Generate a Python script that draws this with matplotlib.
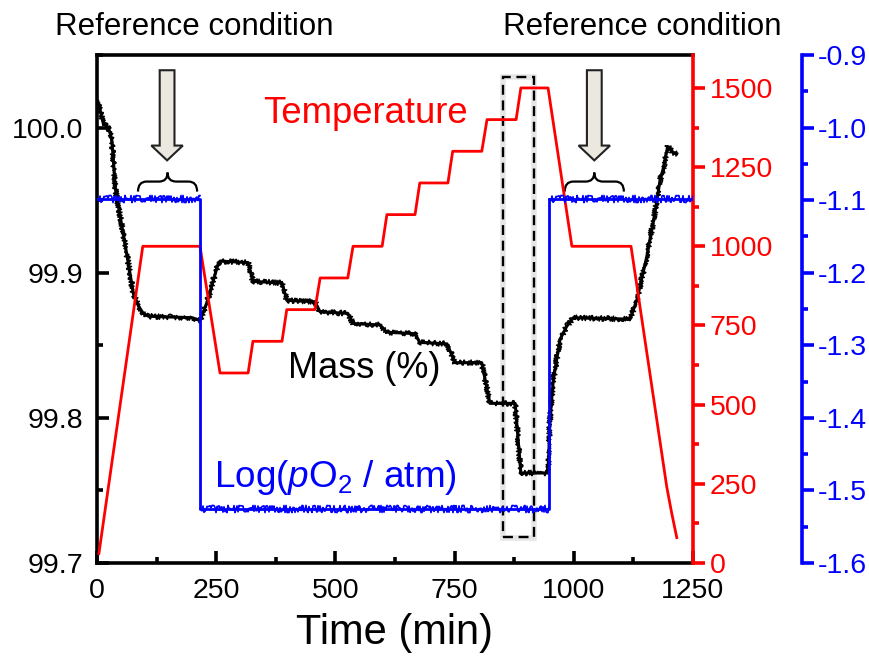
import matplotlib
matplotlib.use("Agg")
import matplotlib.pyplot as plt
from matplotlib.path import Path
from matplotlib.patches import PathPatch, Polygon, Rectangle
from matplotlib.ticker import MultipleLocator, FormatStrFormatter

# ---- data -------------------------------------------------------------
# sample mass (%) versus time (min)
time_mass = [2, 13, 24, 31, 39, 57, 69, 76, 87, 97, 108, 200, 216, 230, 254, 258,
             317, 327, 388, 398, 457, 468, 526, 537, 593, 608, 667, 677,
             734, 751, 807, 824, 877, 889, 944, 947, 950, 957, 971, 985, 999,
             1118, 1132, 1153, 1170, 1181, 1187, 1197, 1208, 1216]
mass = [100.018, 100.003, 100.000, 99.992, 99.957, 99.923, 99.900, 99.886, 99.877, 99.872, 99.870, 99.869, 99.867, 99.879, 99.906, 99.908,
        99.907, 99.894, 99.893, 99.881, 99.880, 99.873, 99.872, 99.865, 99.864, 99.859, 99.858, 99.852,
        99.851, 99.838, 99.838, 99.810, 99.810, 99.762, 99.762, 99.770, 99.799, 99.826, 99.854, 99.863, 99.869,
        99.868, 99.881, 99.911, 99.941, 99.964, 99.971, 99.987, 99.983, 99.982]

# furnace temperature programme (deg C)
time_temp = [4, 96, 216, 258, 317, 327, 388, 398, 457, 468, 526, 537, 598, 608,
             667, 677, 736, 746, 807, 818, 879, 889, 946, 996, 1120, 1195, 1205, 1216]
temp = [30, 1000, 1000, 600, 600, 700, 700, 800, 800, 900, 900, 1000, 1000, 1100,
        1100, 1200, 1200, 1300, 1300, 1400, 1400, 1500, 1500, 1000, 1000, 240, 160, 80]

# oxygen partial pressure, log(pO2 / atm)
time_po2 = [0, 216, 216, 948, 948, 1250]
po2 = [-1.098, -1.098, -1.525, -1.525, -1.098, -1.098]

x_ticks = [0, 250, 500, 750, 1000, 1250]
mass_ticks = [99.7, 99.8, 99.9, 100.0]
temp_ticks = [0, 250, 500, 750, 1000, 1250, 1500]
po2_ticks = [-1.6, -1.5, -1.4, -1.3, -1.2, -1.1, -1.0, -0.9]

# ---- style ------------------------------------------------------------
plt.rcParams["font.family"] = ["Liberation Sans", "DejaVu Sans"]
plt.rcParams["axes.unicode_minus"] = False
plt.rcParams["mathtext.fontset"] = "custom"
plt.rcParams["mathtext.rm"] = "Liberation Sans"
plt.rcParams["mathtext.it"] = "Liberation Sans:italic"

RED = "#ff0000"
BLUE = "#0000ff"
SPINE_W = 2.6
TICK_FS = 20.5
MAJ, MIN = 8.6, 4.5

fig = plt.figure(figsize=(8.7, 6.6), dpi=100)
ax = fig.add_axes([97 / 870, 97 / 660, 596 / 870, 508 / 660])

# host axis: mass (thermobalance signal drawn with a fine jitter texture)
ax.plot(time_mass, mass, color="black", lw=2.2, zorder=3)
(mass_line,) = ax.plot(time_mass, mass, color="black", lw=1.2, zorder=3)
mass_line.set_sketch_params(2.6, 1.2, 2.0)
ax.set_xlim(0, 1250)
ax.set_ylim(99.7, 100.05)
ax.set_xticks(x_ticks)
ax.set_yticks(mass_ticks)
ax.xaxis.set_minor_locator(MultipleLocator(125))
ax.yaxis.set_minor_locator(MultipleLocator(0.05))
ax.yaxis.set_major_formatter(FormatStrFormatter("%.1f"))
ax.tick_params(which="both", direction="in", width=SPINE_W, top=False, right=False)
ax.tick_params(which="major", length=MAJ, labelsize=TICK_FS)
ax.tick_params(which="minor", length=MIN)
ax.tick_params(axis="x", which="major", pad=11)
ax.tick_params(axis="y", which="major", pad=10)
for s in ("left", "bottom", "top"):
    ax.spines[s].set_linewidth(SPINE_W)
ax.spines["right"].set_visible(False)
ax.set_xlabel("Time (min)", fontsize=30, labelpad=6)

# temperature axis
ax_t = ax.twinx()
ax_t.plot(time_temp, temp, color=RED, lw=2.0)
ax_t.set_ylim(0, 1604)
ax_t.set_yticks(temp_ticks)
ax_t.yaxis.set_minor_locator(MultipleLocator(125))
ax_t.tick_params(which="both", direction="out", width=SPINE_W, colors=RED)
ax_t.tick_params(which="major", length=MAJ, labelsize=TICK_FS, pad=3.5)
ax_t.tick_params(which="minor", length=MIN)
for s in ("left", "bottom", "top"):
    ax_t.spines[s].set_visible(False)
ax_t.spines["right"].set_color(RED)
ax_t.spines["right"].set_linewidth(SPINE_W)

# oxygen partial pressure axis, offset to the right
ax_p = ax.twinx()
ax_p.spines["right"].set_position(("axes", 705 / 596))
ax_p.plot(time_po2, po2, color=BLUE, lw=2.0)
for i in (0, 2, 4):
    (seg,) = ax_p.plot(time_po2[i:i + 2], po2[i:i + 2], color=BLUE, lw=1.2)
    seg.set_sketch_params(3.6, 1.0, 2.0)
ax_p.set_ylim(-1.6, -0.9)
ax_p.set_yticks(po2_ticks)
ax_p.yaxis.set_minor_locator(MultipleLocator(0.05))
ax_p.yaxis.set_major_formatter(FormatStrFormatter("%.1f"))
ax_p.tick_params(which="both", direction="out", width=SPINE_W, colors=BLUE)
ax_p.tick_params(which="major", length=MAJ, labelsize=TICK_FS, pad=3)
ax_p.tick_params(which="minor", length=MIN)
for s in ("left", "bottom", "top"):
    ax_p.spines[s].set_visible(False)
ax_p.spines["right"].set_color(BLUE)
ax_p.spines["right"].set_linewidth(SPINE_W)

# ---- annotations ------------------------------------------------------
ARROW_FILL = "#ebe9df"


def down_arrow(axis, xc, y_top, y_head, y_tip, half_shaft, half_head):
    pts = [(xc - half_shaft, y_top), (xc + half_shaft, y_top),
           (xc + half_shaft, y_head), (xc + half_head, y_head),
           (xc, y_tip), (xc - half_head, y_head), (xc - half_shaft, y_head)]
    axis.add_patch(Polygon(pts, closed=True, facecolor=ARROW_FILL,
                           edgecolor="#222222", lw=1.5, zorder=4,
                           clip_on=False))


def brace(axis, x0, x1, y_end, y_bar, y_cusp, r):
    xc = (x0 + x1) / 2
    verts = [(x0, y_end), (x0, y_bar), (x0 + r, y_bar), (xc - r, y_bar),
             (xc, y_bar), (xc, y_cusp), (xc, y_bar), (xc + r, y_bar),
             (x1 - r, y_bar), (x1, y_bar), (x1, y_end)]
    codes = [Path.MOVETO, Path.CURVE3, Path.CURVE3, Path.LINETO,
             Path.CURVE3, Path.CURVE3, Path.CURVE3, Path.CURVE3,
             Path.LINETO, Path.CURVE3, Path.CURVE3]
    axis.add_patch(PathPatch(Path(verts, codes), facecolor="none",
                             edgecolor="black", lw=1.6, zorder=4))


for xc in (147, 1043):
    down_arrow(ax, xc, 100.0395, 99.9876, 99.9774, 15.5, 33)
brace(ax, 86, 210, 99.9559, 99.9628, 99.9690, 18)
brace(ax, 981, 1105, 99.9559, 99.9628, 99.9690, 18)

# highlighted window at the highest temperature step
ax.add_patch(Rectangle((852.5, 99.717), 65, 0.318, facecolor="none",
                       edgecolor="#e6e6e6", lw=4, zorder=2))
ax.add_patch(Rectangle((851, 99.718), 65, 0.3165, facecolor="none",
                       edgecolor="black", lw=1.7, ls=(0, (4.2, 2.4)), zorder=5))

# series labels
ax.text(0.2785, 0.867, "Temperature", color=RED, fontsize=26.3,
        transform=ax.transAxes, va="baseline", ha="left", zorder=6)
ax.text(0.321, 0.364, "Mass (%)", color="black", fontsize=26,
        transform=ax.transAxes, va="baseline", ha="left", zorder=6)
ax.text(0.197, 0.150, r"Log($\mathit{p}$O$_2$ / atm)", color=BLUE,
        fontsize=26.6, transform=ax.transAxes, va="baseline", ha="left",
        zorder=6)

fig.text(55 / 870, 1 - 35 / 660, "Reference condition", fontsize=22.5,
         va="baseline", ha="left")
fig.text(503 / 870, 1 - 35 / 660, "Reference condition", fontsize=22.5,
         va="baseline", ha="left")

fig.savefig("out.png", dpi=100)
